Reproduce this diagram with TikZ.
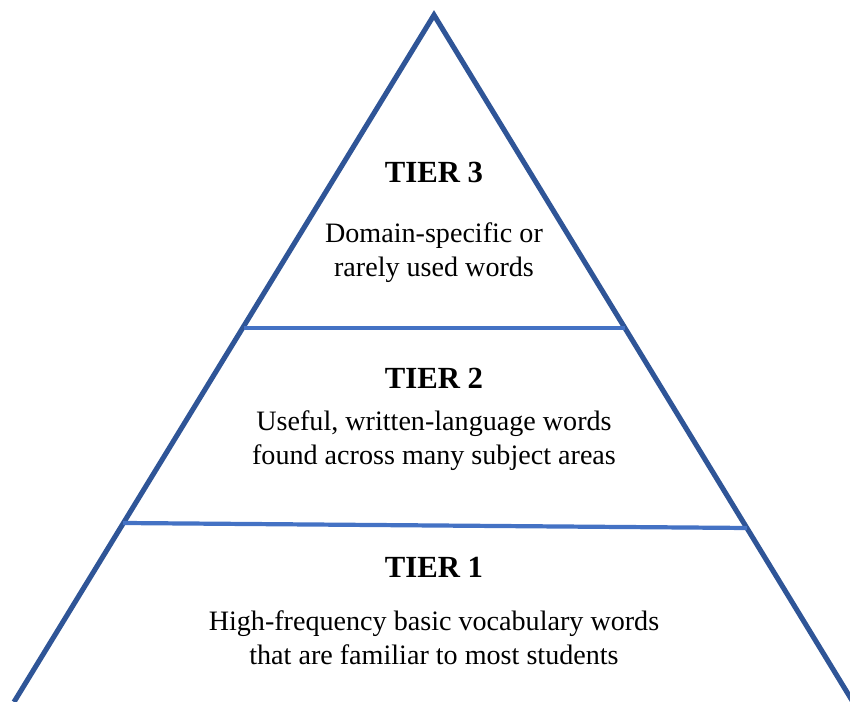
\documentclass[tikz,border=0pt]{standalone}
\usepackage{fontspec}
\setmainfont{Liberation Serif}
\definecolor{edgeblue}{HTML}{2F5597}
\definecolor{tierblue}{HTML}{4472C4}
\tikzset{
  tiertitle/.style={font=\fontsize{17.5}{21}\selectfont\bfseries, inner sep=0pt},
  tiertext/.style={font=\fontsize{16}{19.3}\selectfont, align=center, inner sep=0pt}
}
\begin{document}
\begin{tikzpicture}[x=0.02cm, y=-0.02cm]
                \useasboundingbox (0, 0) rectangle (850, 702);
                % pyramid outline
                \coordinate (apex) at (434, 15);
                \coordinate (baseL) at (14, 702);
                \coordinate (baseR) at (853, 702);
                \draw[edgeblue, line width = 2.9pt, line join = miter] (baseL) -- (apex) -- (baseR);
                % tier separators
                \coordinate (sepAL) at (244, 328);
                \coordinate (sepAR) at (625, 328);
                \coordinate (sepBL) at (123, 523);
                \coordinate (sepBR) at (747, 528);
                \draw[tierblue, line width = 2.4pt] (sepAL) -- (sepAR);
                \draw[tierblue, line width = 2.4pt] (sepBL) -- (sepBR);
                % labels
                \node[tiertitle] (tier3) at (434, 172) {TIER 3};
                \node[tiertext] (desc3) at (434, 253) {Domain-specific or\\rarely used words};
                \node[tiertitle] (tier2) at (434, 378) {TIER 2};
                \node[tiertext] (desc2) at (434, 441) {Useful, written-language words\\found across many subject areas};
                \node[tiertitle] (tier1) at (434, 567) {TIER 1};
                \node[tiertext] (desc1) at (434, 638) {High-frequency basic vocabulary words\\that are familiar to most students};
            \end{tikzpicture}
\end{document}
